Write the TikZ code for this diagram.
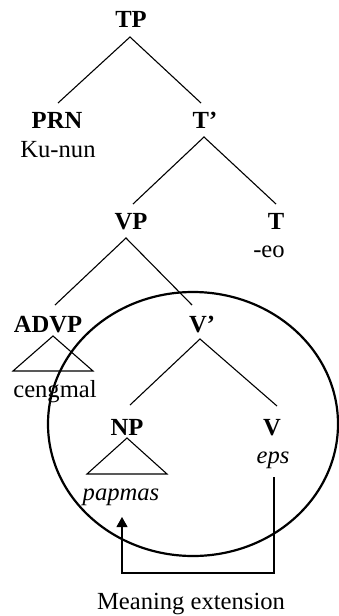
\documentclass[tikz,border=0pt]{standalone}
\usepackage{fontspec}
\setmainfont{Liberation Serif}
\usetikzlibrary{arrows.meta}
\begin{document}
\begin{tikzpicture}[x=1pt,y=-1pt,
  lbl/.style={inner sep=0pt,anchor=base,font=\fontsize{24.6}{28}\selectfont\bfseries},
  wrd/.style={inner sep=0pt,anchor=base,font=\fontsize{24.6}{28}\selectfont},
  iwrd/.style={inner sep=0pt,anchor=base,font=\fontsize{24.6}{28}\selectfont\itshape},
  branch/.style={line width=1.1pt},
  ring/.style={line width=2.2pt},
  ext/.style={line width=1.1pt,-{Triangle[length=10pt,width=11pt]}}]
\useasboundingbox (0,0) rectangle (339,616);
% labels
\node[lbl] (TP) at (131,27) {TP};
\node[lbl] (PRN) at (57,128) {PRN};
\node[wrd] (kunun) at (58,157) {Ku-nun};
\node[lbl] (Tbar) at (205,128) {T’};
\node[lbl] (VP) at (131,229) {VP};
\node[lbl] (T) at (276,229) {T};
\node[wrd] (eo) at (269,257) {-eo};
\node[lbl] (ADVP) at (48,332) {ADVP};
\node[lbl] (Vbar) at (202,332) {V’};
\node[wrd] (cengmal) at (55,397) {cengmal};
\node[lbl] (NP) at (127,435) {NP};
\node[lbl] (V) at (272,435) {V};
\node[iwrd] (eps) at (273,463) {eps};
\node[iwrd] (papmas) at (121,500) {papmas};
\node[wrd] (ME) at (191,609) {Meaning extension};
% branch points
\coordinate (tpA) at (130,37);
\coordinate (tpL) at (58,103);
\coordinate (tpR) at (201,103);
\coordinate (tbA) at (204,137);
\coordinate (tbL) at (133,204);
\coordinate (tbR) at (276,204);
\coordinate (vpA) at (126,238);
\coordinate (vpL) at (55,305);
\coordinate (vpR) at (192,305);
\coordinate (vbA) at (200,339);
\coordinate (vbL) at (130,405);
\coordinate (vbR) at (277,406);
\coordinate (adA) at (53,336);
\coordinate (adL) at (13,371);
\coordinate (adR) at (93,371);
\coordinate (npA) at (127,438);
\coordinate (npL) at (87,474);
\coordinate (npR) at (167,474);
\draw[branch] (tpL) -- (tpA) -- (tpR);
\draw[branch] (tbL) -- (tbA) -- (tbR);
\draw[branch] (vpL) -- (vpA) -- (vpR);
\draw[branch] (vbL) -- (vbA) -- (vbR);
\draw[branch,line join=miter] (adA) -- (adL) -- (adR) -- cycle;
\draw[branch,line join=miter] (npA) -- (npL) -- (npR) -- cycle;
% ellipse
\coordinate (ctr) at (193,424);
\draw[ring] (ctr) ellipse [x radius=145, y radius=132];
% meaning extension arrow
\coordinate (aS) at (274,477);
\coordinate (aC1) at (274,573);
\coordinate (aC2) at (122,573);
\coordinate (aE) at (122,517);
\draw[ext] (aS) -- (aC1) -- (aC2) -- (aE);
\end{tikzpicture}
\end{document}
